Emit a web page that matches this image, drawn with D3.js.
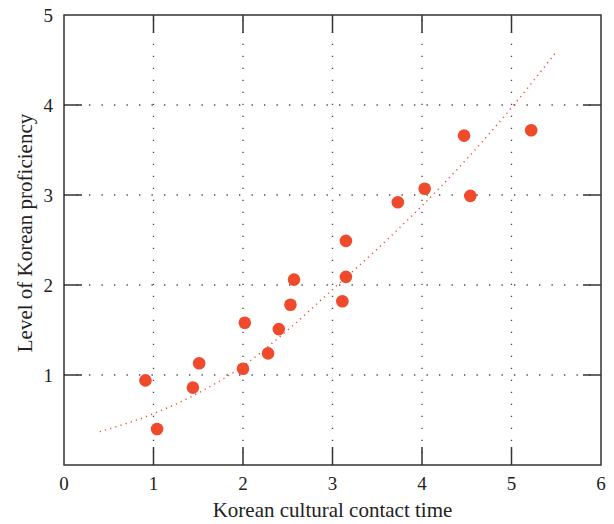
<!DOCTYPE html>
<meta charset="utf-8">
<head>
  <script src="https://cdn.jsdelivr.net/npm/d3@7"></script>
  <style>
    body { margin: 0; background: #fff; }
    text { font-family: "Liberation Serif", "DejaVu Serif", serif; fill: #222; }
  </style>
</head>
<body>
<div id="chart"></div>
<script>
  // scatter points
  const contactTime = [0.91, 1.04, 1.44, 1.51, 2.0, 2.02, 2.28, 2.40, 2.53, 2.57,
                       3.11, 3.15, 3.15, 3.73, 4.03, 4.47, 4.54, 5.22];
  const proficiency = [0.94, 0.40, 0.86, 1.13, 1.07, 1.58, 1.24, 1.51, 1.78, 2.06,
                       1.82, 2.49, 2.09, 2.92, 3.07, 3.66, 2.99, 3.72];
  // dotted trend curve
  const trendX = [0.4, 1, 1.5, 2, 2.5, 3, 3.5, 4, 4.5, 5, 5.5];
  const trendY = [0.37, 0.57, 0.8, 1.1, 1.5, 1.95, 2.4, 2.88, 3.4, 3.97, 4.59];
  const xTicks = [0, 1, 2, 3, 4, 5, 6];
  const yTicks = [1, 2, 3, 4, 5];

  const width = 614, height = 524;
  const margin = {top: 15, right: 13, bottom: 59, left: 64};
  const w = width - margin.left - margin.right;
  const h = height - margin.top - margin.bottom;

  const svg = d3.select("#chart").append("svg")
      .attr("width", width).attr("height", height);
  const g = svg.append("g").attr("transform", `translate(${margin.left},${margin.top})`);

  const x = d3.scaleLinear().domain([0, 6]).range([0, w]);
  const y = d3.scaleLinear().domain([0, 5]).range([h, 0]);

  // dotted grid
  g.append("g").selectAll("line").data([1, 2, 3, 4, 5]).enter().append("line")
      .attr("x1", d => x(d)).attr("x2", d => x(d))
      .attr("y1", h).attr("y2", 0)
      .attr("stroke", "#444").attr("stroke-width", 1.3)
      .attr("stroke-dasharray", "1.3,10.7");
  g.append("g").selectAll("line").data([1, 2, 3, 4]).enter().append("line")
      .attr("y1", d => y(d)).attr("y2", d => y(d))
      .attr("x1", 0).attr("x2", w)
      .attr("stroke", "#444").attr("stroke-width", 1.3)
      .attr("stroke-dasharray", "1.3,11.2");

  // inward ticks on all four sides
  const tk = 18;
  const tickG = g.append("g").attr("stroke", "#333").attr("stroke-width", 1.5);
  [1, 2, 3, 4, 5].forEach(d => {
    tickG.append("line").attr("x1", x(d)).attr("x2", x(d)).attr("y1", h).attr("y2", h - tk);
    tickG.append("line").attr("x1", x(d)).attr("x2", x(d)).attr("y1", 0).attr("y2", tk);
  });
  [1, 2, 3, 4].forEach(d => {
    tickG.append("line").attr("y1", y(d)).attr("y2", y(d)).attr("x1", 0).attr("x2", tk);
    tickG.append("line").attr("y1", y(d)).attr("y2", y(d)).attr("x1", w).attr("x2", w - tk);
  });

  // frame
  g.append("rect").attr("width", w).attr("height", h)
      .attr("fill", "none").attr("stroke", "#333").attr("stroke-width", 1.5);

  // tick labels
  g.append("g").selectAll("text").data(xTicks).enter().append("text")
      .attr("x", d => x(d)).attr("y", h + 25)
      .attr("text-anchor", "middle").style("font-size", "19px")
      .text(d => d);
  g.append("g").selectAll("text").data(yTicks).enter().append("text")
      .attr("x", -11).attr("y", d => y(d)).attr("dy", "0.35em")
      .attr("text-anchor", "end").style("font-size", "19px")
      .text(d => d);

  // trend curve
  const line = d3.line().x(d => x(d[0])).y(d => y(d[1])).curve(d3.curveMonotoneX);
  g.append("path").datum(d3.zip(trendX, trendY))
      .attr("d", line).attr("fill", "none")
      .attr("stroke", "#ef4a2b").attr("stroke-width", 1.4)
      .attr("stroke-dasharray", "1.2,4.2");

  // points
  g.append("g").selectAll("circle").data(d3.zip(contactTime, proficiency)).enter()
      .append("circle")
      .attr("cx", d => x(d[0])).attr("cy", d => y(d[1])).attr("r", 6.3)
      .attr("fill", "#ef4a2b");

  // axis titles
  svg.append("text")
      .attr("x", margin.left + w / 2).attr("y", 517)
      .attr("text-anchor", "middle").style("font-size", "21px")
      .text("Korean cultural contact time");
  svg.append("text")
      .attr("transform", `translate(32,${margin.top + h / 2 - 7}) rotate(-90)`)
      .attr("text-anchor", "middle").style("font-size", "21px")
      .text("Level of Korean proficiency");
</script>
</body>
